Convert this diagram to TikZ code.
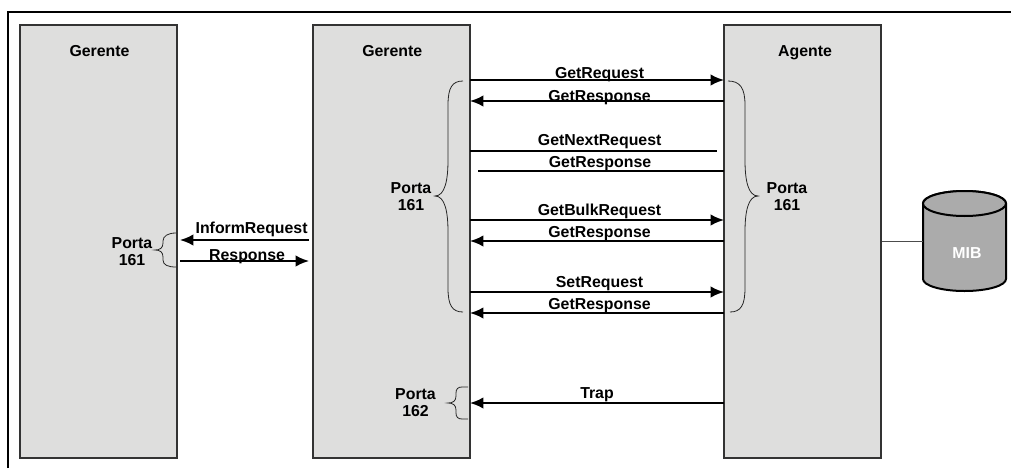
\documentclass[tikz,border=0pt]{standalone}
\usepackage{fontspec}
\setmainfont{Liberation Sans}
\usetikzlibrary{arrows.meta}

\definecolor{hostgray}{HTML}{DEDEDD}
\definecolor{mibgray}{HTML}{ABABAB}
\tikzset{
  hostbox/.style={draw=black!80, fill=hostgray, line width=0.8pt, inner sep=0pt, minimum width=117.75pt, minimum height=324.75pt},
  boldtext/.style={font=\fontsize{11.9}{12.75}\selectfont\bfseries, align=center, inner sep=0pt},
  titletext/.style={boldtext, anchor=base},
  msg/.style={line width=1.5pt, >={Latex[length=10pt,width=8.6pt]}},
  msglabel/.style={boldtext, above, yshift=#1},
  portbrace/.style={draw=black!85, line width=0.6pt},
  mibbody/.style={draw=black, line width=1.5pt, fill=mibgray}
}

\begin{document}
\begin{tikzpicture}[x=0.75pt,y=-0.75pt]
\useasboundingbox (0,0) rectangle (1011,468);
\draw[line width=1.5pt] (8,468) |- (1011,12);

\node[hostbox] (gerenteL) at (98.5,241.5) {};
\node[hostbox] (gerenteM) at (391.5,241.5) {};
\node[hostbox] (agente) at (802.5,241.5) {};
%============
\draw[mibbody] (923,203.5) -- (923,279) arc[start angle=180, end angle=0, x radius=41.5, y radius=12] -- (1006,203.5) arc[start angle=0, end angle=-180, x radius=41.5, y radius=12.5] -- cycle;
\draw[mibbody] (964.5,203.5) ellipse[x radius=41.5, y radius=12.5];
\coordinate (mib) at (923,241.5);
%============
\node[titletext] (tituloL) at (99.5,56) {Gerente};
\node[titletext] (tituloM) at (392.3,56) {Gerente};
\node[titletext] (tituloA) at (805,56) {Agente};
\node[boldtext, text=white] (tituloMib) at (967,253) {MIB};
\node[boldtext] (portaL) at (132,251.5) {Porta\\161};
\node[boldtext] (portaM) at (411,196.5) {Porta\\161};
\node[boldtext] (portaA) at (787,196.5) {Porta\\161};
\node[boldtext] (portaT) at (415.5,402.5) {Porta\\162};
%============
\coordinate (m1) at (470,80);   \coordinate (a1) at (724,80);
\coordinate (m2) at (470,101);  \coordinate (a2) at (724,101);
\coordinate (m3) at (470,151);  \coordinate (a3) at (717,151);
\coordinate (m4) at (478,171);  \coordinate (a4) at (724,171);
\coordinate (m5) at (470,220);  \coordinate (a5) at (724,220);
\coordinate (m6) at (470,241);  \coordinate (a6) at (724,241);
\coordinate (m7) at (470,292);  \coordinate (a7) at (724,292);
\coordinate (m8) at (470,313);  \coordinate (a8) at (724,313);
\coordinate (m9) at (470,403);  \coordinate (a9) at (724,403);
\coordinate (l1) at (180,240);  \coordinate (r1) at (309,240);
\coordinate (l2) at (180,261);  \coordinate (r2) at (309,261);

\draw[msg, ->] (m1) -- node[msglabel=-2pt, pos=.51] {GetRequest} (a1);
\draw[msg, ->] (a2) -- node[msglabel=-3.4pt, pos=.49] {GetResponse} (m2);
\draw[msg] (m3) -- node[msglabel=1pt, pos=.525] {GetNextRequest} (a3);
\draw[msg] (a4) -- node[msglabel=-.5pt, pos=.504] {GetResponse} (m4);
\draw[msg, ->] (m5) -- node[msglabel=.3pt, pos=.51] {GetBulkRequest} (a5);
\draw[msg, ->] (a6) -- node[msglabel=-.5pt, pos=.49] {GetResponse} (m6);
\draw[msg, ->] (m7) -- node[msglabel=.3pt, pos=.51] {SetRequest} (a7);
\draw[msg, ->] (a8) -- node[msglabel=-.5pt, pos=.49] {GetResponse} (m8);
\draw[msg, ->] (a9) -- node[msglabel=.3pt, pos=.5] {Trap} (m9);
\draw[msg, ->] (r1) -- node[msglabel=1.8pt, pos=.445] {InformRequest} (l1);
\draw[msg, ->] (l2) -- node[msglabel=-2.7pt, pos=.52] {Response} (r2);

\draw[line width=0.9pt, black!70] (agente.east) -- (mib);
%============
\draw[portbrace] (176,233) .. controls (168,233) and (163,236) .. (163,241) -- (163,243) .. controls (163,248) and (160,250) .. (155,250) .. controls (160,250) and (163,252) .. (163,257) -- (163,260) .. controls (163,265) and (168,267) .. (176,267);
\draw[portbrace] (463,81) .. controls (452,81) and (448,88) .. (448,105) -- (448,160) .. controls (448,180) and (445,196) .. (435,196) .. controls (445,196) and (448,212) .. (448,232) -- (448,288) .. controls (448,305) and (452,312) .. (463,312);
\draw[portbrace] (468,387) -- (462,387) .. controls (458,387) and (456,389) .. (456,393) -- (456,396) .. controls (456,401) and (453,403) .. (448,403) .. controls (453,403) and (456,405) .. (456,410) -- (456,413) .. controls (456,417) and (458,419) .. (462,419) -- (468,419);
\draw[portbrace] (728,81) .. controls (740,81) and (745,88) .. (745,105) -- (745,160) .. controls (745,180) and (748,196) .. (758,196) .. controls (748,196) and (745,212) .. (745,232) -- (745,288) .. controls (745,305) and (741,312) .. (730,312);
\end{tikzpicture}
\end{document}
